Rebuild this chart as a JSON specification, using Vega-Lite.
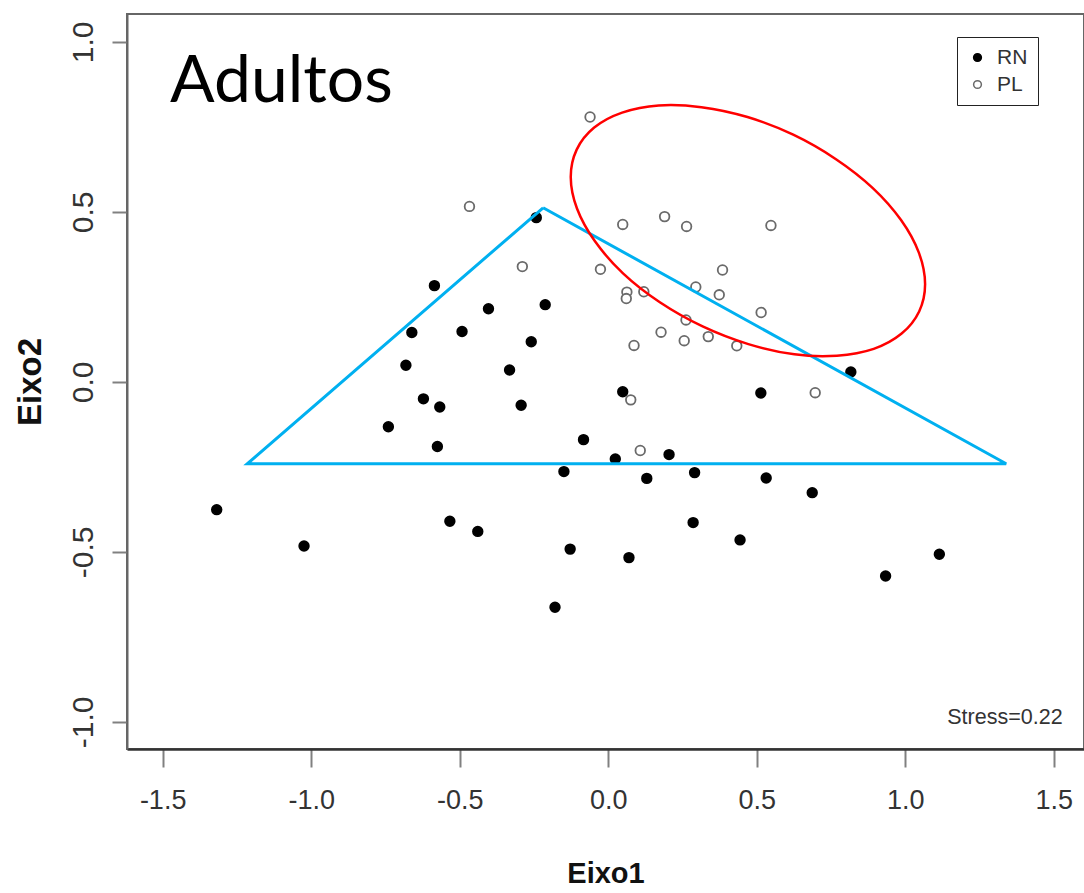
{
  "$schema": "https://vega.github.io/schema/vega-lite/v6.json",
  "width": 957,
  "height": 735,
  "autosize": {"type": "none"},
  "padding": {"left": 127, "top": 14, "right": 0, "bottom": 144},
  "background": "white",
  "config": {
    "font": "Liberation Sans",
    "view": {"stroke": "#666666", "strokeWidth": 2},
    "axis": {"grid": false, "labelFlush": false, "labelOverlap": false, "tickWidth": 2, "tickColor": "#808080", "labelColor": "#333333", "titleFontWeight": "bold", "titleColor": "#111111"},
    "axisX": {"tickSize": 18, "domainColor": "#333333", "domainWidth": 2.5, "labelFontSize": 27, "labelPadding": 20, "titleFontSize": 29, "titlePadding": 46},
    "axisY": {"tickSize": 15, "domainColor": "#666666", "domainWidth": 2, "labelFontSize": 30, "labelPadding": 20, "labelAngle": -90, "labelAlign": "center", "labelBaseline": "alphabetic", "titleFontSize": 33, "titlePadding": 21}
  },
  "datasets": {
    "sites": [
      {"x": -0.242, "y": 0.483, "group": "RN"},
      {"x": -0.585, "y": 0.283, "group": "RN"},
      {"x": -0.403, "y": 0.215, "group": "RN"},
      {"x": -0.212, "y": 0.227, "group": "RN"},
      {"x": -0.661, "y": 0.145, "group": "RN"},
      {"x": -0.492, "y": 0.148, "group": "RN"},
      {"x": -0.259, "y": 0.118, "group": "RN"},
      {"x": -0.681, "y": 0.049, "group": "RN"},
      {"x": -0.332, "y": 0.035, "group": "RN"},
      {"x": -0.622, "y": -0.05, "group": "RN"},
      {"x": -0.567, "y": -0.074, "group": "RN"},
      {"x": -0.293, "y": -0.069, "group": "RN"},
      {"x": -0.74, "y": -0.132, "group": "RN"},
      {"x": -0.083, "y": -0.17, "group": "RN"},
      {"x": -0.575, "y": -0.19, "group": "RN"},
      {"x": -0.149, "y": -0.264, "group": "RN"},
      {"x": 0.024, "y": -0.227, "group": "RN"},
      {"x": 0.13, "y": -0.284, "group": "RN"},
      {"x": -1.318, "y": -0.376, "group": "RN"},
      {"x": -1.024, "y": -0.483, "group": "RN"},
      {"x": -0.533, "y": -0.41, "group": "RN"},
      {"x": -0.439, "y": -0.44, "group": "RN"},
      {"x": -0.128, "y": -0.492, "group": "RN"},
      {"x": 0.07, "y": -0.517, "group": "RN"},
      {"x": -0.179, "y": -0.663, "group": "RN"},
      {"x": 0.817, "y": 0.029, "group": "RN"},
      {"x": 0.049, "y": -0.029, "group": "RN"},
      {"x": 0.514, "y": -0.033, "group": "RN"},
      {"x": 0.205, "y": -0.214, "group": "RN"},
      {"x": 0.291, "y": -0.267, "group": "RN"},
      {"x": 0.532, "y": -0.283, "group": "RN"},
      {"x": 0.687, "y": -0.326, "group": "RN"},
      {"x": 0.286, "y": -0.414, "group": "RN"},
      {"x": 0.444, "y": -0.465, "group": "RN"},
      {"x": 1.115, "y": -0.507, "group": "RN"},
      {"x": 0.934, "y": -0.571, "group": "RN"},
      {"x": -0.467, "y": 0.516, "group": "PL"},
      {"x": -0.289, "y": 0.339, "group": "PL"},
      {"x": -0.061, "y": 0.779, "group": "PL"},
      {"x": 0.049, "y": 0.463, "group": "PL"},
      {"x": 0.19, "y": 0.486, "group": "PL"},
      {"x": 0.264, "y": 0.457, "group": "PL"},
      {"x": 0.548, "y": 0.46, "group": "PL"},
      {"x": -0.026, "y": 0.331, "group": "PL"},
      {"x": 0.385, "y": 0.329, "group": "PL"},
      {"x": 0.063, "y": 0.264, "group": "PL"},
      {"x": 0.061, "y": 0.245, "group": "PL"},
      {"x": 0.12, "y": 0.265, "group": "PL"},
      {"x": 0.295, "y": 0.279, "group": "PL"},
      {"x": 0.374, "y": 0.256, "group": "PL"},
      {"x": 0.515, "y": 0.204, "group": "PL"},
      {"x": 0.262, "y": 0.182, "group": "PL"},
      {"x": 0.178, "y": 0.146, "group": "PL"},
      {"x": 0.087, "y": 0.107, "group": "PL"},
      {"x": 0.256, "y": 0.121, "group": "PL"},
      {"x": 0.337, "y": 0.133, "group": "PL"},
      {"x": 0.433, "y": 0.106, "group": "PL"},
      {"x": 0.076, "y": -0.053, "group": "PL"},
      {"x": 0.697, "y": -0.032, "group": "PL"},
      {"x": 0.108, "y": -0.202, "group": "PL"}
    ],
    "triangle": [
      {"i": 0, "x": -0.219, "y": 0.512},
      {"i": 1, "x": 1.34, "y": -0.241},
      {"i": 2, "x": -1.215, "y": -0.241},
      {"i": 3, "x": -0.219, "y": 0.512}
    ],
    "ellipse": [
      {"i": 0, "x": 1.047, "y": 0.207},
      {"i": 1, "x": 0.988, "y": 0.142},
      {"i": 2, "x": 0.894, "y": 0.097},
      {"i": 3, "x": 0.77, "y": 0.077},
      {"i": 4, "x": 0.627, "y": 0.081},
      {"i": 5, "x": 0.472, "y": 0.111},
      {"i": 6, "x": 0.318, "y": 0.163},
      {"i": 7, "x": 0.174, "y": 0.234},
      {"i": 8, "x": 0.05, "y": 0.319},
      {"i": 9, "x": -0.045, "y": 0.414},
      {"i": 10, "x": -0.105, "y": 0.51},
      {"i": 11, "x": -0.126, "y": 0.602},
      {"i": 12, "x": -0.106, "y": 0.683},
      {"i": 13, "x": -0.047, "y": 0.748},
      {"i": 14, "x": 0.047, "y": 0.792},
      {"i": 15, "x": 0.17, "y": 0.813},
      {"i": 16, "x": 0.314, "y": 0.808},
      {"i": 17, "x": 0.469, "y": 0.779},
      {"i": 18, "x": 0.623, "y": 0.727},
      {"i": 19, "x": 0.767, "y": 0.655},
      {"i": 20, "x": 0.891, "y": 0.57},
      {"i": 21, "x": 0.986, "y": 0.476},
      {"i": 22, "x": 1.046, "y": 0.38},
      {"i": 23, "x": 1.067, "y": 0.288}
    ]
  },
  "layer": [
    {
      "data": {"name": "sites"},
      "mark": {"type": "point", "shape": "circle", "strokeWidth": 1.8, "opacity": 1, "size": 92},
      "encoding": {
        "x": {
          "field": "x", "type": "quantitative",
          "scale": {"domain": [-1.62, 1.602], "nice": false, "zero": false},
          "axis": {"title": "Eixo1", "values": [-1.5, -1, -0.5, 0, 0.5, 1, 1.5], "labelExpr": "(datum.value < 0 ? '-' : '') + format(abs(datum.value), '.1f')"}
        },
        "y": {
          "field": "y", "type": "quantitative",
          "scale": {"domain": [-1.08, 1.082], "nice": false, "zero": false},
          "axis": {"title": "Eixo2", "values": [-1, -0.5, 0, 0.5, 1], "labelExpr": "(datum.value < 0 ? '-' : '') + format(abs(datum.value), '.1f')"}
        },
        "fill": {
          "field": "group",
          "type": "nominal",
          "scale": {"domain": ["RN", "PL"], "range": ["#000000", "#ffffff"]},
          "legend": {
            "title": null, "orient": "none", "legendX": 830, "legendY": 23, "padding": 10,
            "strokeColor": "#222222", "labelFontSize": 21, "labelColor": "#333333", "labelOffset": 9,
            "symbolSize": 60, "symbolStrokeWidth": 1.5, "symbolType": "circle", "rowPadding": 5
          }
        },
        "stroke": {
          "field": "group",
          "type": "nominal",
          "scale": {"domain": ["RN", "PL"], "range": ["#000000", "#6a6a6a"]},
          "legend": {
            "title": null, "orient": "none", "legendX": 830, "legendY": 23, "padding": 10,
            "strokeColor": "#222222", "labelFontSize": 21, "labelColor": "#333333", "labelOffset": 9,
            "symbolSize": 60, "symbolStrokeWidth": 1.5, "symbolType": "circle", "rowPadding": 5
          }
        }
      }
    },
    {
      "data": {"name": "triangle"},
      "mark": {"type": "line", "color": "#00B0F0", "strokeWidth": 3},
      "encoding": {
        "x": {
          "field": "x", "type": "quantitative",
          "scale": {"domain": [-1.62, 1.602], "nice": false, "zero": false},
          "axis": {"title": "Eixo1", "values": [-1.5, -1, -0.5, 0, 0.5, 1, 1.5], "labelExpr": "(datum.value < 0 ? '-' : '') + format(abs(datum.value), '.1f')"}
        },
        "y": {
          "field": "y", "type": "quantitative",
          "scale": {"domain": [-1.08, 1.082], "nice": false, "zero": false},
          "axis": {"title": "Eixo2", "values": [-1, -0.5, 0, 0.5, 1], "labelExpr": "(datum.value < 0 ? '-' : '') + format(abs(datum.value), '.1f')"}
        },
        "order": {"field": "i", "type": "quantitative"}
      }
    },
    {
      "data": {"name": "ellipse"},
      "mark": {"type": "line", "color": "#FF0000", "strokeWidth": 2.5, "interpolate": "cardinal-closed"},
      "encoding": {
        "x": {
          "field": "x", "type": "quantitative",
          "scale": {"domain": [-1.62, 1.602], "nice": false, "zero": false},
          "axis": {"title": "Eixo1", "values": [-1.5, -1, -0.5, 0, 0.5, 1, 1.5], "labelExpr": "(datum.value < 0 ? '-' : '') + format(abs(datum.value), '.1f')"}
        },
        "y": {
          "field": "y", "type": "quantitative",
          "scale": {"domain": [-1.08, 1.082], "nice": false, "zero": false},
          "axis": {"title": "Eixo2", "values": [-1, -0.5, 0, 0.5, 1], "labelExpr": "(datum.value < 0 ? '-' : '') + format(abs(datum.value), '.1f')"}
        },
        "order": {"field": "i", "type": "quantitative"}
      }
    },
    {
      "data": {"values": [{"label": "Adultos"}]},
      "mark": {"type": "text", "font": "Lato", "fontSize": 66, "align": "left", "baseline": "alphabetic", "color": "#000000"},
      "encoding": {
        "x": {
          "datum": -1.475, "type": "quantitative",
          "scale": {"domain": [-1.62, 1.602], "nice": false, "zero": false},
          "axis": {"title": "Eixo1", "values": [-1.5, -1, -0.5, 0, 0.5, 1, 1.5], "labelExpr": "(datum.value < 0 ? '-' : '') + format(abs(datum.value), '.1f')"}
        },
        "y": {
          "datum": 0.824, "type": "quantitative",
          "scale": {"domain": [-1.08, 1.082], "nice": false, "zero": false},
          "axis": {"title": "Eixo2", "values": [-1, -0.5, 0, 0.5, 1], "labelExpr": "(datum.value < 0 ? '-' : '') + format(abs(datum.value), '.1f')"}
        },
        "text": {"field": "label", "type": "nominal"}
      }
    },
    {
      "data": {"values": [{"label": "Stress=0.22"}]},
      "mark": {"type": "text", "fontSize": 21.5, "align": "right", "baseline": "middle", "color": "#333333"},
      "encoding": {
        "x": {
          "datum": 1.53, "type": "quantitative",
          "scale": {"domain": [-1.62, 1.602], "nice": false, "zero": false},
          "axis": {"title": "Eixo1", "values": [-1.5, -1, -0.5, 0, 0.5, 1, 1.5], "labelExpr": "(datum.value < 0 ? '-' : '') + format(abs(datum.value), '.1f')"}
        },
        "y": {
          "datum": -0.99, "type": "quantitative",
          "scale": {"domain": [-1.08, 1.082], "nice": false, "zero": false},
          "axis": {"title": "Eixo2", "values": [-1, -0.5, 0, 0.5, 1], "labelExpr": "(datum.value < 0 ? '-' : '') + format(abs(datum.value), '.1f')"}
        },
        "text": {"field": "label", "type": "nominal"}
      }
    }
  ]
}
